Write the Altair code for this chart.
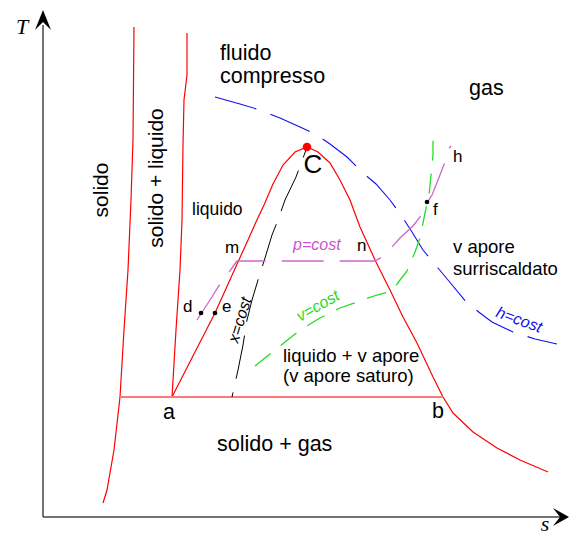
import altair as alt
import pandas as pd

# ---- curves (s, T); origin at the axes corner ----
melt_left_s = [91, 90, 88, 85, 81, 77, 71, 64, 60]
melt_left_T = [490, 377, 317, 247, 187, 120, 67, 27, 14]

melt_right_s = [144, 144, 141, 140, 139, 137, 133, 129]
melt_right_T = [484, 442, 417, 372, 297, 247, 187, 120]

dome_s = [129, 152, 172, 195, 205, 213, 221, 230, 240, 252, 264,
          275, 287, 297, 307, 317, 333, 347, 360, 374, 390, 400, 410, 430, 454, 477, 505]
dome_T = [120, 165, 204, 255, 277, 295, 312, 333, 352, 365, 370,
          365, 354, 337, 317, 290, 255, 227, 200, 174, 140, 120, 104, 85, 69, 57, 45]

triple_s = [77, 400]
triple_T = [120, 120]

xcost_s = [263, 253, 242, 235, 229, 222, 215, 209, 204, 200, 195, 189]
xcost_T = [367, 340, 317, 297, 282, 259, 237, 217, 197, 172, 147, 120]

hcost_s = [172, 197, 217, 237, 257, 272, 287, 304, 320, 333, 347, 360, 369, 380, 395,
           405, 424, 437, 449, 470, 492, 514]
hcost_T = [420, 413, 407, 399, 390, 383, 373, 360, 344, 333, 317, 299, 285, 267, 249,
           237, 214, 204, 195, 185, 178, 173]

pcost_s = [154, 167, 177, 189, 194, 332, 344, 348, 357, 370, 380, 384, 389, 395, 402, 405, 408]
pcost_T = [197, 217, 233, 249, 256, 256, 263, 269, 279, 291, 304, 314, 322, 337, 355, 367, 371]

vcost_s = [212, 227, 242, 257, 277, 297, 314, 334, 349, 357, 364, 372, 377, 382, 386, 388, 390, 390]
vcost_T = [151, 163, 175, 187, 199, 209, 215, 222, 226, 237, 246, 265, 279, 304, 322, 342, 362, 378]

crit_s = [264]
crit_T = [370]

pts_s = [158, 172, 384]
pts_T = [204, 204, 315]

# axes
yaxis_s = [0, 0]
yaxis_T = [0, 492]
xaxis_s = [0, 522]
xaxis_T = [0, 0]

S_DOM = [-35, 526]
T_DOM = [-18, 509]
W, H = 561, 527

xs = alt.Scale(domain=S_DOM, nice=False, zero=False)
ys = alt.Scale(domain=T_DOM, nice=False, zero=False)
X = alt.X("s:Q", scale=xs, axis=None)
Y = alt.Y("T:Q", scale=ys, axis=None)

FONT = "Liberation Sans"


def df(s, T):
    return pd.DataFrame({"s": s, "T": T, "o": list(range(len(s)))})


def line(s, T, color, width, dash=None, offset=None):
    kw = dict(color=color, strokeWidth=width, clip=True)
    if dash:
        kw["strokeDash"] = dash
    if offset:
        kw["strokeDashOffset"] = offset
    return alt.Chart(df(s, T)).mark_line(**kw).encode(x=X, y=Y, order="o:Q")


def texts(items, size, color="black", align="left", baseline="alphabetic",
          angle=0, style="normal", font=FONT):
    d = pd.DataFrame({"t": [i[0] for i in items], "s": [i[1] for i in items],
                      "T": [i[2] for i in items]})
    kw = dict(fontSize=size, color=color, align=align, baseline=baseline,
              font=font, fontStyle=style)
    if angle:
        kw["angle"] = angle
    return alt.Chart(d).mark_text(**kw).encode(x=X, y=Y, text="t:N")


layers = [
    line(yaxis_s, yaxis_T, "#444444", 1.5),
    line(xaxis_s, xaxis_T, "#444444", 1.5),
    line(melt_left_s, melt_left_T, "#ff0000", 1.2),
    line(melt_right_s, melt_right_T, "#ff0000", 1.2),
    line(dome_s, dome_T, "#ff0000", 1.2),
    line(triple_s, triple_T, "#ff7777", 2.2),
    line(xcost_s, xcost_T, "#000000", 1, dash=[44, 14], offset=36),
    line(hcost_s, hcost_T, "#1010ee", 1.1, dash=[43, 15]),
    line(pcost_s, pcost_T, "#cc66cc", 1.3, dash=[42, 16]),
    line(vcost_s, vcost_T, "#22dd22", 1.3, dash=[20, 13]),
]

# arrowheads
arrow_up = "M0,-1L0.8,1L0,0.2L-0.8,1Z"
arrow_right = "M1,0L-0.6,-0.9L0.1,0L-0.6,0.9Z"
layers.append(alt.Chart(df([0], [497])).mark_point(
    shape=arrow_up, size=400, filled=True, color="black", opacity=1).encode(x=X, y=Y))
layers.append(alt.Chart(df([516], [0])).mark_point(
    shape=arrow_right, size=400, filled=True, color="black", opacity=1).encode(x=X, y=Y))

# critical point and state points
layers.append(alt.Chart(df(crit_s, crit_T)).mark_point(
    shape="circle", size=75, filled=True, color="#ff0000", opacity=1).encode(x=X, y=Y))
layers.append(alt.Chart(df(pts_s, pts_T)).mark_point(
    shape="circle", size=22, filled=True, color="black", opacity=1).encode(x=X, y=Y))

# axis titles
layers.append(texts([("T", -21, 490)], 22, style="italic", align="center",
                    baseline="middle", font="Liberation Serif"))
layers.append(texts([("s", 502, -7)], 22, style="italic", align="center",
                    baseline="middle", font="Liberation Serif"))

# region labels
layers.append(texts([("fluido", 177, 457), ("compresso", 177, 434), ("gas", 426, 422),
                     ("solido + gas", 174, 66), ("a", 120, 98), ("b", 389, 99)], 21.5))
layers.append(texts([("solido", 59, 327), ("solido + liquido", 114, 339)], 21,
                    align="center", baseline="middle", angle=270))
layers.append(texts([("v apore", 410, 264), ("surriscaldato", 410, 242),
                     ("liquido + v apore", 240, 155), ("(v apore saturo)", 240, 135)], 18.5))
layers.append(texts([("liquido", 149, 302)], 17.5))
layers.append(texts([("m", 182, 264), ("n", 314, 266), ("d", 140, 205), ("e", 179, 205),
                     ("f", 390, 302), ("h", 410, 355)], 17))
layers.append(texts([("C", 270, 352)], 26, align="center", baseline="middle"))

# iso-line labels
layers.append(texts([("p=cost", 250, 267)], 16, color="#cc55cc", style="italic"))
layers.append(texts([("x=cost", 197, 197)], 16, style="italic", align="center",
                    baseline="middle", angle=287))
layers.append(texts([("v=cost", 275, 211)], 16, color="#22dd22", style="italic",
                    align="center", baseline="middle", angle=330))
layers.append(texts([("h=cost", 476, 197)], 16, color="#1010ee", style="italic",
                    align="center", baseline="middle", angle=20))

chart = alt.layer(*layers).properties(
    width=W, height=H, padding=0, autosize="none", background="white"
).configure_view(stroke=None)

chart.save("out.html", embed_options={"renderer": "svg", "actions": False})
